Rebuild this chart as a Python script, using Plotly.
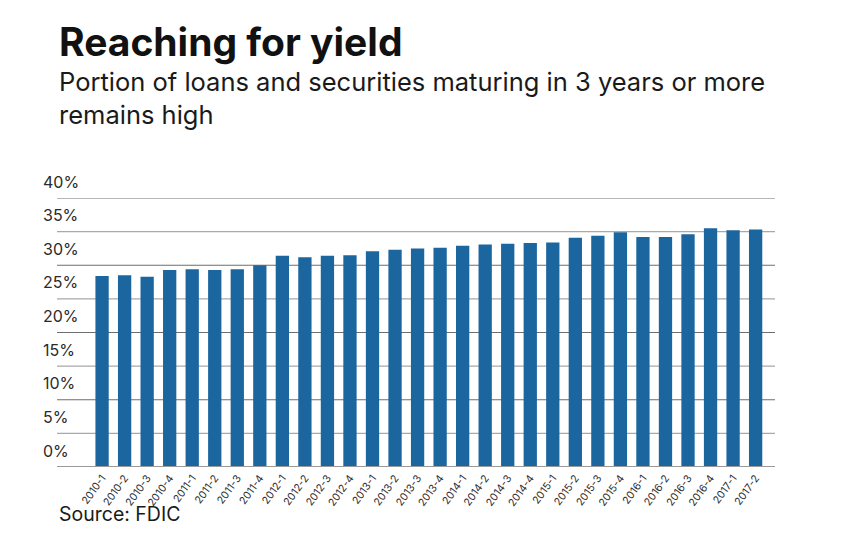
import plotly.graph_objects as go

quarters = ["2010-1", "2010-2", "2010-3", "2010-4", "2011-1", "2011-2", "2011-3", "2011-4",
            "2012-1", "2012-2", "2012-3", "2012-4", "2013-1", "2013-2", "2013-3", "2013-4",
            "2014-1", "2014-2", "2014-3", "2014-4", "2015-1", "2015-2", "2015-3", "2015-4",
            "2016-1", "2016-2", "2016-3", "2016-4", "2017-1", "2017-2"]
share_pct = [28.4, 28.5, 28.3, 29.3, 29.4, 29.3, 29.4, 30.0,
             31.4, 31.2, 31.4, 31.5, 32.1, 32.3, 32.5, 32.6,
             32.9, 33.1, 33.2, 33.3, 33.4, 34.1, 34.4, 34.9,
             34.2, 34.2, 34.6, 35.5, 35.2, 35.3]
y_ticks = [0, 5, 10, 15, 20, 25, 30, 35, 40]
y_tick_text = [f"{v}%" for v in y_ticks]

title_text = "Reaching for yield"
subtitle_lines = ["Portion of loans and securities maturing in 3 years or more", "remains high"]
source_text = "Source: FDIC"

FONT = "Inter"
BAR = "#1c66a0"

fig = go.Figure()
fig.add_trace(go.Bar(
    x=list(range(len(quarters))), y=share_pct,
    marker=dict(color=BAR, line=dict(width=0)),
    hoverinfo="skip",
))

# gridlines: darker at multiples of 10, lighter in between
for v in y_ticks:
    if v == 0:
        continue
    col = "#6e6e6e" if v % 10 == 0 else "#a9a9a9"
    fig.add_hline(y=v, line=dict(color=col, width=1.2), layer="below")
fig.add_hline(y=0, line=dict(color="#9a9a9a", width=2.2), layer="above")

annotations = []
for v, t in zip(y_ticks, y_tick_text):
    annotations.append(dict(text=t, xref="paper", yref="y", x=-0.0223, y=v,
                            xanchor="left", yanchor="bottom", yshift=4.5, showarrow=False,
                            font=dict(size=16, family=FONT, color="#2a2a2a")))
annotations += [
    dict(text=f"<b>{title_text}</b>", xref="paper", yref="paper", x=0, y=1.488,
         xanchor="left", yanchor="bottom", showarrow=False,
         font=dict(size=39, family=FONT, color="#111111")),
    dict(text="<br>".join(subtitle_lines), xref="paper", yref="paper", x=0, y=1.247,
         xanchor="left", yanchor="bottom", showarrow=False, align="left",
         font=dict(size=25.5, family=FONT, color="#1a1a1a")),
    dict(text=source_text, xref="paper", yref="paper", x=0, y=-0.226,
         xanchor="left", yanchor="bottom", showarrow=False,
         font=dict(size=19.5, family=FONT, color="#1a1a1a")),
]

fig.update_layout(
    width=836, height=542,
    margin=dict(l=49, r=69, t=190, b=83),
    paper_bgcolor="white", plot_bgcolor="white",
    bargap=0.41,
    showlegend=False,
    font=dict(family=FONT, color="#1a1a1a"),
    xaxis=dict(
        range=[-2.0, 29.86],
        tickmode="array", tickvals=list(range(len(quarters))), ticktext=quarters,
        tickangle=-54, tickfont=dict(size=10.5, color="#2e2e2e", family=FONT),
        ticklabelstandoff=2,
        showgrid=False, zeroline=False, showline=False, ticks="",
        automargin=False, fixedrange=True,
    ),
    yaxis=dict(
        range=[0, 40], showticklabels=False,
        showgrid=False, zeroline=False, showline=False, ticks="",
        automargin=False, fixedrange=True,
    ),
    annotations=annotations,
)

fig.write_html("out.html")
